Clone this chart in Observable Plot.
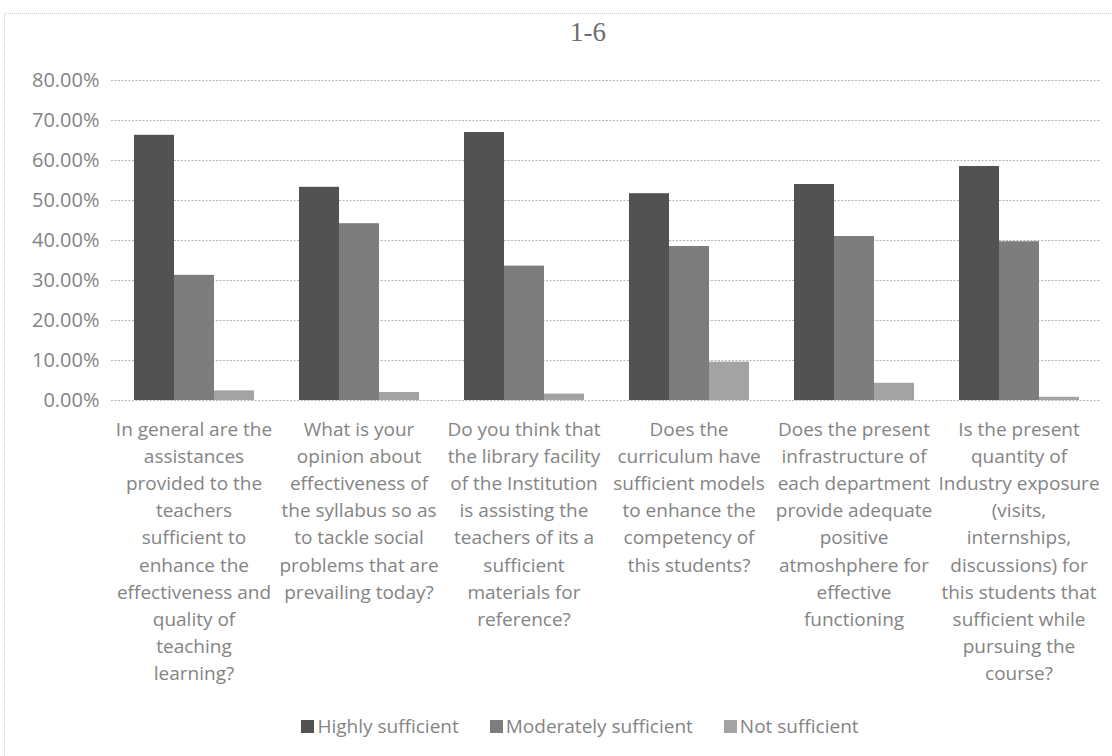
<!DOCTYPE html>
<html>
<head>
<meta charset="utf-8">
<script src="https://cdn.jsdelivr.net/npm/d3@7"></script>
<script src="https://cdn.jsdelivr.net/npm/@observablehq/plot@0.6"></script>
<style>
  html, body { margin: 0; padding: 0; background: #fff; }
  #wrap { position: relative; width: 1112px; height: 756px; overflow: hidden; font-family: "Open Sans", sans-serif; }
  #frame { position: absolute; left: 4px; top: 13px; width: 1120px; height: 760px; border-left: 1px dotted #c8c8c8; border-top: 1px dotted #c8c8c8; }
  #title { position: absolute; left: 32px; width: 1112px; top: 17px; text-align: center; font-size: 27px; color: #6e6e6e; font-family: "Liberation Serif", serif; }
  #chart { position: absolute; left: 0; top: 0; }
  #legend { position: absolute; left: 0; width: 1160px; top: 713px; display: flex; justify-content: center; gap: 31px; font-size: 19px; color: #848484; }
  #legend .item { display: flex; align-items: center; gap: 3px; }
  #legend .sw { width: 13px; height: 13px; display: inline-block; }
</style>
</head>
<body>
<div id="wrap">
  <div id="frame"></div>
  <div id="title">1-6</div>
  <div id="chart"></div>
  <div id="legend"></div>
</div>
<script>
// ---- data ----
const questions = ["Q1", "Q2", "Q3", "Q4", "Q5", "Q6"];
const questionLabels = [
  ["In general are the", "assistances", "provided to the", "teachers", "sufficient to", "enhance the", "effectiveness and", "quality of", "teaching", "learning?"],
  ["What is your", "opinion about", "effectiveness of", "the syllabus so as", "to tackle social", "problems that are", "prevailing today?"],
  ["Do you think that", "the library facility", "of the Institution", "is assisting the", "teachers of its a", "sufficient", "materials for", "reference?"],
  ["Does the", "curriculum have", "sufficient models", "to enhance the", "competency of", "this students?"],
  ["Does the present", "infrastructure of", "each department", "provide adequate", "positive", "atmoshphere for", "effective", "functioning"],
  ["Is the present", "quantity of", "Industry exposure", "(visits,", "internships,", "discussions) for", "this students that", "sufficient while", "pursuing the", "course?"]
];
const seriesNames = ["Highly sufficient", "Moderately sufficient", "Not sufficient"];
const highly     = [0.663, 0.533, 0.670, 0.517, 0.540, 0.585];
const moderately = [0.313, 0.442, 0.336, 0.385, 0.410, 0.397];
const notSuff    = [0.024, 0.020, 0.016, 0.096, 0.043, 0.008];
const yTicks = [0, 0.1, 0.2, 0.3, 0.4, 0.5, 0.6, 0.7, 0.8];
const seriesColors = ["#525252", "#7d7d7d", "#a3a3a3"];

const rows = [];
questions.forEach((q, i) => {
  [highly, moderately, notSuff].forEach((arr, s) => {
    rows.push({question: q, series: seriesNames[s], value: arr[i]});
  });
});
const labelRows = questions.map((q, i) => ({question: q, label: questionLabels[i].join("\n")}));

const textColor = "#848484";

const chart = Plot.plot({
  width: 1112,
  height: 712,
  marginTop: 80,
  marginBottom: 312,
  marginLeft: 110,
  marginRight: 10,
  style: {fontFamily: "'Open Sans', sans-serif", background: "transparent"},
  fx: {domain: questions, padding: 0, axis: null},
  x: {domain: seriesNames, paddingInner: 0, paddingOuter: 0.52, axis: null},
  y: {domain: [0, 0.8], axis: null},
  color: {domain: seriesNames, range: seriesColors},
  marks: [
    Plot.ruleY(yTicks, {y: d => d, stroke: "#b4b4b4", strokeDasharray: "2,1.5", strokeWidth: 1.2}),
    Plot.barY(rows, {fx: "question", x: "series", y: "value", fill: "series", inset: 0}),
    Plot.axisY({ticks: yTicks, tickSize: 0, tickPadding: 12, fontSize: 20, fill: textColor, label: null,
      tickFormat: d => (d * 100).toFixed(2) + "%", anchor: "left"}),
    Plot.text(labelRows, {fx: "question", text: "label", frameAnchor: "bottom", lineAnchor: "top",
      dy: 16, fontSize: 19, lineHeight: 1.43, fill: textColor})
  ]
});
document.getElementById("chart").appendChild(chart);

// legend
const legend = document.getElementById("legend");
seriesNames.forEach((name, i) => {
  const item = document.createElement("div");
  item.className = "item";
  const sw = document.createElement("span");
  sw.className = "sw";
  sw.style.background = chart.scale("color").apply(name);
  item.appendChild(sw);
  const t = document.createElement("span");
  t.textContent = name;
  item.appendChild(t);
  legend.appendChild(item);
});
</script>
</body>
</html>
